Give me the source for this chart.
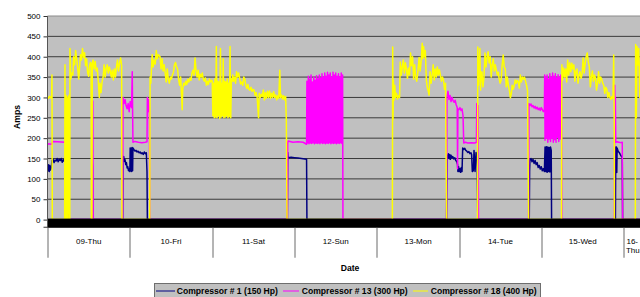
<!DOCTYPE html>
<html>
<head>
<meta charset="utf-8">
<script src="https://cdn.jsdelivr.net/npm/d3@7"></script>
<style>
  body { margin: 0; background: #fff; }
  text { font-family: 'Liberation Sans', Arial, sans-serif; }
</style>
</head>
<body>
<div id="chart"></div>
<script>
// hours are counted from 09-Thu 00:00
const dayLabels = ['09-Thu', '10-Fri', '11-Sat', '12-Sun', '13-Mon', '14-Tue', '15-Wed', '16-Thu']
const dayStarts = [0, 24, 48, 72, 96, 120, 144, 168]
const yTicks = [0, 50, 100, 150, 200, 250, 300, 350, 400, 450, 500]
const seriesNames = ['Compressor # 1 (150 Hp)', 'Compressor # 13 (300 Hp)', 'Compressor # 18 (400 Hp)']
const seriesColors = ['#000080', '#ff00ff', '#ffff00']

// Compressor # 1 (150 Hp)
const comp1 = [
  [0, 130], [0.2, 120], [0.35, 135], [0.5, 118], [0.7, 132], [0.9, 122], [1.1, 128], [1.3, 145],
  [1.6, 148], [1.9, 140], [2.2, 146], [2.5, 144], [2.8, 150], [3.1, 142], [3.4, 148], [3.7, 145],
  [4.0, 150], [4.3, 141], [4.6, 147], [4.9, 143], [5.2, 146], [5.5, 140], [5.8, 138], [6.0, 118], [6.1, 0],
  [12.9, 0], [13.0, 150], [13.1, 130], [13.2, 0],
  [21.9, 0], [22.0, 150], [22.2, 155], [22.4, 143], [22.6, 147], [22.8, 135], [23.0, 140], [23.2, 127],
  [23.4, 130], [23.6, 120], [23.8, 124], [24.0, 118], [24.1, 176], [24.2, 120], [24.35, 175], [24.5, 118],
  [24.65, 177], [24.8, 120], [24.9, 176], [25.2, 172], [25.5, 168], [25.8, 170], [26.1, 166], [26.4, 168],
  [26.7, 164], [27.0, 166], [27.3, 162], [27.6, 164], [27.9, 160], [28.2, 166], [28.5, 162], [28.8, 164],
  [29.0, 118], [29.1, 0],
  [69.9, 0], [70.0, 165], [70.1, 152], [71, 153], [72, 152], [73, 151], [74, 150], [75, 149], [75.5, 148], [75.6, 0],
  [116.3, 0], [116.4, 158], [116.6, 152], [116.8, 162], [117.0, 150], [117.2, 160], [117.4, 148], [117.6, 158],
  [117.8, 152], [118.1, 155], [118.4, 149], [118.7, 152], [119.0, 145], [119.3, 142], [119.5, 135], [119.6, 118],
  [119.8, 130], [120.0, 118], [120.2, 125], [120.4, 116], [120.6, 128], [120.8, 118], [121.0, 176], [121.3, 172],
  [121.6, 175], [121.9, 170], [122.2, 168], [122.5, 165], [122.8, 167], [123.1, 162], [123.4, 164], [123.6, 160],
  [123.8, 118], [124.1, 120], [124.3, 170], [124.6, 118], [124.9, 165], [125.2, 150], [125.4, 0],
  [140.4, 0], [140.5, 120], [140.6, 148], [140.9, 150], [141.2, 142], [141.5, 148], [141.8, 138], [142.1, 145],
  [142.4, 135], [142.7, 140], [143.0, 128], [143.3, 133], [143.6, 124], [143.9, 130], [144.2, 120], [144.5, 125],
  [144.8, 118], [145.0, 178], [145.2, 118], [145.4, 179], [145.6, 116], [145.8, 178], [146.0, 118], [146.2, 177],
  [146.4, 117], [146.6, 178], [146.8, 170], [146.9, 0],
  [165.5, 0], [165.6, 178], [165.7, 115], [165.8, 178], [165.9, 116], [166.0, 176], [166.3, 168], [166.6, 165],
  [166.9, 160], [167.2, 156], [167.5, 152], [167.6, 0], [175, 0]
]

// Compressor # 13 (300 Hp)
const comp13 = [
  [0, 184], [0.3, 186], [1.2, 185], [1.5, 192], [3, 191], [5, 190], [5.3, 193], [5.6, 189], [6.0, 182], [6.2, 176], [6.3, 0],
  [12.9, 0], [13.0, 295], [13.2, 290], [13.3, 0],
  [21.9, 0], [22.0, 300], [22.3, 285], [22.6, 295], [22.9, 280], [23.2, 272], [23.5, 285], [23.8, 265], [24.1, 290],
  [24.5, 275], [24.7, 363], [24.8, 270], [24.9, 190], [25.5, 192], [26.5, 190], [27.5, 189], [28.5, 190], [29.0, 191],
  [29.1, 300], [29.3, 265], [29.5, 295], [29.7, 270], [29.8, 0],
  [69.9, 0], [70.0, 187], [70.1, 193], [71.5, 190], [73.0, 191], [74.5, 190], [75.5, 185],
  [75.6, 340], [75.8, 188], [76.0, 352], [76.2, 186], [76.4, 345], [76.6, 188], [76.8, 355], [77.0, 187],
  [77.2, 338], [77.4, 189], [77.6, 350], [77.8, 186], [78.0, 342], [78.2, 188], [78.4, 353], [78.6, 187],
  [78.8, 346], [79.0, 188], [79.2, 355], [79.4, 186], [79.6, 348], [79.8, 189], [80.0, 358], [80.2, 187],
  [80.4, 350], [80.6, 188], [80.8, 360], [81.0, 186], [81.2, 352], [81.4, 188], [81.6, 362], [81.8, 187],
  [82.0, 355], [82.2, 189], [82.4, 360], [82.6, 186], [82.8, 350], [83.0, 188], [83.2, 362], [83.4, 187],
  [83.6, 355], [83.8, 188], [84.0, 360], [84.2, 186], [84.4, 352], [84.6, 188], [84.8, 358], [85.0, 187],
  [85.2, 350], [85.4, 189], [85.6, 360], [85.8, 187], [86.0, 355], [86.1, 0],
  [116.3, 0], [116.4, 300], [116.7, 315], [117.0, 295], [117.3, 305], [117.6, 290], [117.9, 300], [118.2, 292],
  [118.5, 288], [118.8, 293], [119.1, 282], [119.4, 275], [119.5, 125], [119.6, 272], [119.9, 270], [120.2, 275],
  [120.5, 268], [120.8, 272], [121.1, 255], [121.3, 188], [121.8, 190], [122.5, 188], [123.5, 189], [124.5, 188],
  [125.0, 190], [125.1, 285], [125.3, 250], [125.5, 280], [125.6, 0],
  [140.2, 0], [140.3, 285], [140.6, 280], [140.9, 284], [141.2, 277], [141.5, 280], [141.8, 274], [142.1, 278],
  [142.4, 272], [142.7, 276], [143.0, 270], [143.3, 274], [143.6, 268], [143.9, 275], [144.2, 270], [144.5, 265],
  [144.8, 270], [144.9, 355], [145.0, 195],
  [145.2, 350], [145.4, 200], [145.6, 355], [145.8, 190], [146.0, 345], [146.2, 198], [146.4, 358], [146.6, 192],
  [146.8, 350], [147.0, 200], [147.2, 360], [147.4, 190], [147.6, 352], [147.8, 196], [148.0, 358], [148.2, 190],
  [148.4, 348], [148.6, 202], [148.8, 356], [149.0, 192], [149.2, 350], [149.4, 198], [149.6, 355], [149.8, 345],
  [149.9, 0],
  [165.2, 0], [165.3, 330], [165.4, 250], [165.5, 300], [165.6, 190], [166.0, 191], [166.5, 190], [167.0, 189],
  [167.5, 190], [167.6, 0], [175, 0]
]

// Compressor # 18 (400 Hp)
const comp18 = [
  [0, 302], [0.3, 298], [0.6, 303], [0.9, 299], [1.2, 301], [1.3, 355], [1.4, 0],
  [5.0, 0], [5.1, 380], [5.2, 0], [5.35, 0], [5.4, 305], [5.6, 298], [5.7, 0], [5.95, 0], [6.0, 300], [6.3, 305],
  [6.4, 0], [6.5, 0], [6.55, 420],
  [6.8, 345], [7.1, 360], [7.4, 355], [7.6, 400], [7.9, 380], [8.2, 415], [8.5, 395], [8.8, 372], [9.1, 345],
  [9.4, 380], [9.6, 405], [9.9, 392], [10.2, 420], [10.5, 398], [10.8, 410], [11.1, 378], [11.4, 395], [11.7, 360],
  [12.0, 352], [12.2, 375], [12.5, 386], [12.7, 380], [12.8, 0], [12.95, 0], [13.05, 385],
  [13.3, 392], [13.6, 370], [13.9, 388], [14.2, 365], [14.5, 372], [14.8, 340], [15.1, 300], [15.3, 335],
  [15.6, 312], [15.9, 338], [16.2, 350], [16.5, 380], [16.8, 350], [17.1, 372], [17.4, 380], [17.7, 360],
  [18.0, 375], [18.3, 365], [18.6, 350], [18.9, 367], [19.2, 343], [19.5, 370], [19.8, 350], [20.1, 375],
  [20.4, 392], [20.7, 365], [21.0, 385], [21.3, 397], [21.6, 378], [21.7, 0],
  [29.8, 0], [29.9, 350], [30.1, 335], [30.3, 370], [30.5, 405], [30.8, 375], [31.1, 392], [31.4, 382],
  [31.7, 415], [32.0, 395], [32.3, 405], [32.8, 400], [33.1, 370], [33.4, 395], [33.7, 365], [34.0, 380],
  [34.3, 360], [34.6, 338], [34.9, 370], [35.2, 345], [35.5, 335], [35.8, 350], [36.1, 345], [36.4, 355],
  [36.7, 362], [37.0, 380], [37.3, 386], [37.6, 375], [37.9, 370], [38.2, 345], [38.5, 330], [38.8, 350],
  [39.1, 300], [39.25, 270], [39.4, 320], [39.7, 335], [40.0, 330], [40.3, 340], [40.6, 332], [40.9, 345],
  [41.2, 338], [41.5, 348], [41.8, 342], [42.1, 360], [42.4, 367], [42.7, 355], [43.0, 397], [43.3, 365],
  [43.6, 350], [43.9, 367], [44.2, 343], [44.5, 357], [44.8, 350], [45.1, 360], [45.4, 345], [45.7, 340],
  [46.0, 348], [46.3, 330], [46.6, 340], [46.9, 332], [47.2, 345], [47.5, 338], [47.8, 342],
  [48.0, 340], [48.2, 255], [48.4, 335], [48.6, 250], [48.8, 345], [49.0, 252], [49.2, 425], [49.4, 250],
  [49.6, 340], [49.8, 255], [50.0, 338], [50.2, 248], [50.4, 420], [50.6, 252], [50.8, 335], [51.0, 255],
  [51.2, 395], [51.4, 250], [51.6, 340], [51.8, 252], [52.0, 338], [52.2, 255], [52.4, 345], [52.6, 250],
  [52.8, 335], [53.0, 253], [53.2, 425], [53.4, 250], [53.6, 345], [53.8, 340],
  [54.0, 355], [54.2, 340], [54.5, 350], [54.8, 335], [55.1, 363], [55.4, 350], [55.7, 360], [56.0, 347],
  [56.3, 333], [56.6, 338], [56.9, 330], [57.2, 350], [57.5, 345], [57.8, 330], [58.1, 322], [58.4, 332],
  [58.7, 320], [59.0, 318], [59.3, 325], [59.6, 315], [59.9, 320], [60.2, 318], [60.5, 305], [60.8, 312],
  [61.1, 300], [61.5, 250], [61.7, 310], [62.0, 300], [62.3, 308], [62.6, 302], [62.9, 318], [63.2, 294],
  [63.5, 312], [63.8, 298], [64.1, 315], [64.4, 300], [64.7, 316], [65.0, 298], [65.3, 310], [65.6, 300],
  [65.9, 314], [66.2, 300], [66.5, 306], [66.8, 294], [67.1, 304], [67.4, 298], [67.7, 367], [67.9, 300],
  [68.2, 306], [68.5, 296], [68.8, 304], [69.1, 294], [69.4, 302], [69.6, 245], [69.8, 0],
  [100.5, 0], [100.6, 424], [100.7, 245], [100.8, 343], [101.0, 294], [101.2, 330], [101.4, 300], [101.7, 310],
  [102.0, 296], [102.3, 305], [102.6, 300], [102.8, 387], [103.1, 355], [103.4, 375], [103.7, 392], [104.0, 360],
  [104.3, 385], [104.6, 370], [104.9, 347], [105.2, 372], [105.5, 355], [105.8, 409], [106.1, 378], [106.4, 400],
  [106.7, 345], [107.0, 380], [107.3, 350], [107.6, 340], [107.9, 360], [108.3, 398], [108.6, 365], [108.9, 390],
  [109.2, 433], [109.4, 395], [109.6, 425], [109.8, 400], [110.1, 415], [110.4, 343], [110.7, 323], [110.9, 318],
  [111.2, 306], [111.5, 363], [111.8, 335], [112.1, 355], [112.4, 380], [112.7, 343], [113.0, 370], [113.3, 350],
  [113.6, 375], [113.9, 355], [114.2, 368], [114.5, 355], [114.8, 340], [115.1, 350], [115.4, 343], [115.7, 320],
  [116.0, 335], [116.3, 0],
  [125.3, 0], [125.4, 424], [125.6, 330], [126.0, 420], [126.2, 318], [126.4, 360], [126.6, 363], [126.9, 326],
  [127.2, 350], [127.5, 409], [127.8, 375], [128.1, 400], [128.4, 412], [128.7, 385], [129.0, 400], [129.3, 350],
  [129.6, 380], [129.9, 395], [130.2, 365], [130.5, 380], [130.8, 367], [131.1, 355], [131.4, 362], [131.6, 347],
  [131.9, 335], [132.2, 342], [132.5, 380], [132.8, 404], [133.1, 375], [133.4, 370], [133.7, 326], [134.0, 350],
  [134.3, 330], [134.6, 318], [134.9, 299], [135.2, 310], [135.4, 330], [135.7, 320], [136.0, 328], [136.3, 343],
  [136.6, 335], [136.9, 342], [137.2, 338], [137.5, 323], [137.8, 355], [138.1, 338], [138.4, 350], [138.7, 345],
  [139.0, 350], [139.3, 340], [139.6, 330], [139.9, 316], [140.2, 0],
  [149.8, 0], [149.9, 380], [150.1, 343], [150.4, 372], [150.7, 350], [151.0, 370], [151.3, 338], [151.6, 392],
  [151.9, 355], [152.2, 385], [152.5, 363], [152.8, 384], [153.1, 370], [153.4, 380], [153.7, 340], [154.0, 365],
  [154.3, 370], [154.6, 335], [154.9, 355], [155.2, 363], [155.5, 347], [155.8, 358], [156.1, 397], [156.4, 360],
  [156.7, 385], [157.0, 400], [157.3, 409], [157.6, 387], [157.9, 375], [158.2, 326], [158.5, 350], [158.8, 365],
  [159.1, 340], [159.4, 355], [159.7, 347], [160.0, 318], [160.3, 335], [160.6, 363], [160.9, 335], [161.2, 350],
  [161.5, 345], [161.8, 335], [162.1, 330], [162.4, 310], [162.7, 325], [163.0, 320], [163.3, 300], [163.6, 312],
  [163.9, 300], [164.2, 295], [164.5, 302], [164.8, 298], [165.0, 404], [165.15, 255], [165.2, 0],
  [171.3, 0], [171.4, 430], [171.6, 250], [171.8, 425], [172.0, 380], [172.3, 420], [172.6, 300], [172.9, 405],
  [173.2, 380], [173.5, 410], [175, 390]
]

const series = [comp1, comp13, comp18]

const margin = { top: 16, left: 47.5, right: -8, bottom: 77 }
const width = 640 - margin.left - margin.right
const height = 297 - margin.top - margin.bottom

const svg = d3
  .select('#chart')
  .append('svg')
  .attr('width', 640)
  .attr('height', 297)

const plot = svg
  .append('g')
  .attr('transform', 'translate(' + margin.left + ',' + margin.top + ')')

const x = d3
  .scaleLinear()
  .domain([0, 175])
  .range([0, width])

const y = d3
  .scaleLinear()
  .domain([0, 500])
  .range([203.6, 0])

const bandBottom = y(-20)

svg
  .append('defs')
  .append('clipPath')
  .attr('id', 'plot-clip')
  .append('rect')
  .attr('width', width)
  .attr('height', bandBottom)

// grey plot area
plot
  .append('rect')
  .attr('width', width)
  .attr('height', bandBottom)
  .attr('fill', '#c0c0c0')

plot
  .append('g')
  .selectAll('line')
  .data(yTicks.filter(d => d > 0 && d < 500))
  .join('line')
  .attr('x1', 0)
  .attr('x2', width)
  .attr('y1', d => y(d))
  .attr('y2', d => y(d))
  .attr('stroke', '#3a3a3a')
  .attr('stroke-width', 1)

plot
  .append('line')
  .attr('x1', 0)
  .attr('x2', width)
  .attr('y1', y(500))
  .attr('y2', y(500))
  .attr('stroke', '#8a8a8a')

const line = d3
  .line()
  .x(d => x(d[0]))
  .y(d => y(d[1]))

plot
  .append('g')
  .attr('clip-path', 'url(#plot-clip)')
  .selectAll('path')
  .data(series)
  .join('path')
  .attr('d', d => line(d))
  .attr('fill', 'none')
  .attr('stroke', (d, i) => seriesColors[i])
  .attr('stroke-width', 1.5)
  .attr('stroke-linejoin', 'round')

// black band under the zero line (also hides the lines while a unit is off)
plot
  .append('rect')
  .attr('x', 0)
  .attr('y', y(0) - 1)
  .attr('width', width)
  .attr('height', bandBottom - y(0) + 1)
  .attr('fill', '#000')

// y axis
plot
  .append('g')
  .call(
    d3
      .axisLeft(y)
      .tickValues(yTicks)
      .tickSizeInner(4)
      .tickSizeOuter(0)
      .tickPadding(3)
  )
  .call(g => g.select('.domain').remove())
  .call(g => g.selectAll('.tick line').attr('stroke', '#333'))
  .call(g =>
    g
      .selectAll('.tick text')
      .style('font-size', '8px')
      .attr('fill', '#000')
  )

plot
  .append('line')
  .attr('x1', 0)
  .attr('x2', 0)
  .attr('y1', 0)
  .attr('y2', bandBottom)
  .attr('stroke', '#555')

plot
  .append('line')
  .attr('x1', -4)
  .attr('x2', 0)
  .attr('y1', bandBottom - 0.5)
  .attr('y2', bandBottom - 0.5)
  .attr('stroke', '#333')

// x axis: day boundaries with labels in between
const xAxis = plot.append('g').attr('transform', `translate(0,${bandBottom})`)

xAxis
  .selectAll('line')
  .data(dayStarts)
  .join('line')
  .attr('x1', d => Math.round(x(d)) + 0.5)
  .attr('x2', d => Math.round(x(d)) + 0.5)
  .attr('y1', 0)
  .attr('y2', 30)
  .attr('stroke', '#6a6a6a')

xAxis
  .selectAll('text')
  .data(dayLabels.slice(0, 7))
  .join('text')
  .attr('x', (d, i) => x(dayStarts[i] + 12))
  .attr('y', 16)
  .attr('text-anchor', 'middle')
  .style('font-size', '8px')
  .text(d => d)

const lastLabel = xAxis
  .append('text')
  .attr('x', x(dayStarts[7]) + 2.5)
  .attr('y', 16)
  .style('font-size', '8px')
const lastParts = dayLabels[7].split('-')
lastLabel.append('tspan').text(lastParts[0] + '-')
lastLabel
  .append('tspan')
  .attr('x', x(dayStarts[7]) + 2)
  .attr('dy', 9.5)
  .text(lastParts[1])

// axis titles
svg
  .append('text')
  .attr('x', 350)
  .attr('y', 271)
  .attr('text-anchor', 'middle')
  .style('font-size', '8.6px')
  .style('font-weight', 'bold')
  .text('Date')

svg
  .append('text')
  .attr('transform', 'translate(20,117) rotate(-90)')
  .attr('text-anchor', 'middle')
  .style('font-size', '8.6px')
  .style('font-weight', 'bold')
  .text('Amps')

// legend
const legendItems = [
  { x: 156, lineEnd: 175, textX: 176.7 },
  { x: 283, lineEnd: 299, textX: 301.7 },
  { x: 413, lineEnd: 428, textX: 430.7 }
]

const legend = svg.append('g')

legend
  .append('rect')
  .attr('x', 154.5)
  .attr('y', 283.5)
  .attr('width', 386)
  .attr('height', 20)
  .attr('fill', '#c0c0c0')
  .attr('stroke', '#6e6e6e')

const item = legend
  .selectAll('g')
  .data(seriesNames)
  .join('g')

item
  .append('line')
  .attr('x1', (d, i) => legendItems[i].x)
  .attr('x2', (d, i) => legendItems[i].lineEnd)
  .attr('y1', 291)
  .attr('y2', 291)
  .attr('stroke', (d, i) => seriesColors[i])
  .attr('stroke-width', 1)

item
  .append('text')
  .attr('x', (d, i) => legendItems[i].textX)
  .attr('y', 294.3)
  .style('font-size', '8.6px')
  .style('font-weight', 'bold')
  .text(d => d)
</script>
</body>
</html>
